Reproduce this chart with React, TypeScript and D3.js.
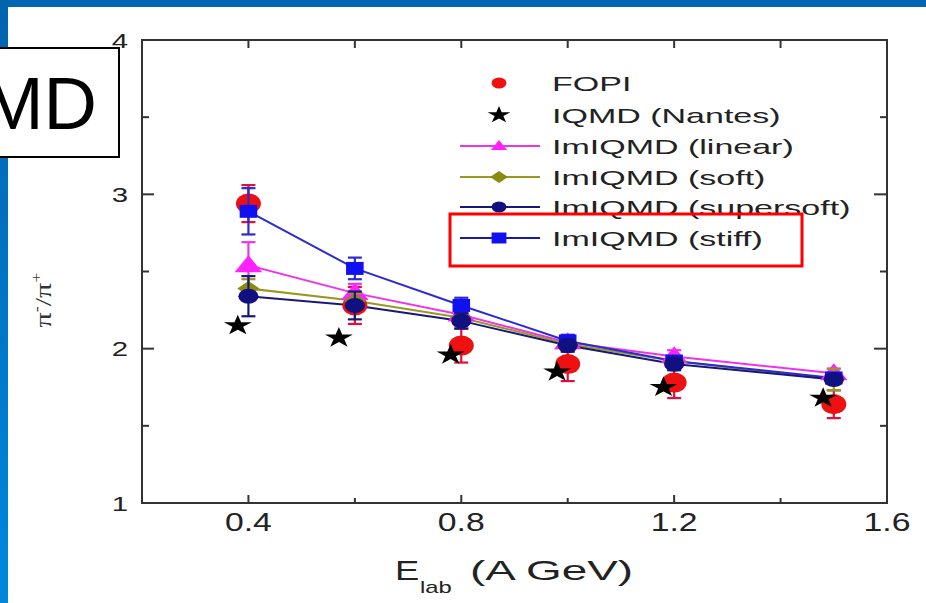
import React from "react";
import * as d3 from "d3";

const energies = [0.4, 0.6, 0.8, 1.0, 1.2, 1.5];
const fopi = [2.94, 2.28, 2.02, 1.9, 1.78, 1.64];
const fopiErr = [0.12, 0.12, 0.11, 0.11, 0.1, 0.09];
const nantesE = [0.38, 0.57, 0.78, 0.98, 1.18, 1.48];
const nantes = [2.15, 2.07, 1.96, 1.85, 1.75, 1.68];
const linear = [2.54, 2.36, 2.22, 2.04, 1.95, 1.84];
const linearErr = [0.15, 0.06, 0.05, 0.04, 0.04, 0.03];
const soft = [2.39, 2.31, 2.2, 2.03, 1.92, 1.8];
const softErr = [0.06, 0.05, 0.04, 0.04, 0.03, 0.07];
const supersoft = [2.34, 2.28, 2.18, 2.02, 1.9, 1.8];
const supersoftErr = [0.13, 0.09, 0.05, 0.04, 0.04, 0.03];
const stiff = [2.89, 2.52, 2.28, 2.05, 1.92, 1.81];
const stiffErr = [0.15, 0.07, 0.05, 0.04, 0.03, 0.03];

const xMajor = [0.4, 0.8, 1.2, 1.6];
const xMinor = [0.6, 1.0, 1.4];
const yMajor = [1, 2, 3, 4];
const yMinor = [1.5, 2.5, 3.5];
const legendLabels = [
  "FOPI",
  "IQMD (Nantes)",
  "ImIQMD (linear)",
  "ImIQMD (soft)",
  "ImIQMD (supersoft)",
  "ImIQMD (stiff)",
];

const SANS = "'Liberation Sans', Arial, Helvetica, sans-serif";
const SERIF = "'Liberation Serif', 'Times New Roman', serif";
const SX = 1.35; // horizontal stretch of the embedded figure

const x = d3.scaleLinear().domain([0.2, 1.6]).range([142, 887]);
const y = d3.scaleLinear().domain([1, 4]).range([503, 40]);

type Shape = "circle" | "star" | "triangle" | "diamond" | "square";

function shapePath(shape: Shape, s: number): string {
  if (shape === "triangle") {
    const h = s;
    const w = s * 0.6;
    return `M0,${-h * 0.6}L${w},${h * 0.4}L${-w},${h * 0.4}Z`;
  }
  if (shape === "diamond") {
    return `M0,${-s * 0.5}L${s * 0.55},0L0,${s * 0.5}L${-s * 0.55},0Z`;
  }
  if (shape === "square") {
    return `M${-s / 2},${-s / 2}h${s}v${s}h${-s}Z`;
  }
  if (shape === "star") {
    return d3.symbol(d3.symbolStar, s * s * 1.1)() as string;
  }
  return d3.symbol(d3.symbolCircle, s * s * 0.785)() as string;
}

function Marker({ cx, cy, shape, size, fill }: { cx: number; cy: number; shape: Shape; size: number; fill: string }) {
  return (
    <path
      d={shapePath(shape, size)}
      transform={`translate(${cx},${cy}) scale(${SX},1)`}
      fill={fill}
    />
  );
}

const sims = [
  { vals: linear, err: linearErr, line: "#ee33ee", fill: "#ff22ff", shape: "triangle" as Shape, size: 17 },
  { vals: soft, err: softErr, line: "#999922", fill: "#8a8a10", shape: "diamond" as Shape, size: 15 },
  { vals: stiff, err: stiffErr, line: "#2b2bd0", fill: "#1010f0", shape: "square" as Shape, size: 13 },
  { vals: supersoft, err: supersoftErr, line: "#18187a", fill: "#101080", shape: "circle" as Shape, size: 15 },
];

const legendRows = [83, 115, 146, 177, 207, 238];
const legendStyles = [
  { line: null, fill: "#ee1111", shape: "circle" as Shape, size: 11 },
  { line: null, fill: "#000000", shape: "star" as Shape, size: 9 },
  { line: "#ee33ee", fill: "#ff22ff", shape: "triangle" as Shape, size: 10 },
  { line: "#999922", fill: "#8a8a10", shape: "diamond" as Shape, size: 12 },
  { line: "#18187a", fill: "#101080", shape: "circle" as Shape, size: 11 },
  { line: "#1a1aa0", fill: "#1010f0", shape: "square" as Shape, size: 11 },
];

export default function App() {
  const lineGen = d3
    .line<number>()
    .x((_, i) => x(energies[i]))
    .y((d) => y(d));

  const errBar = (i: number, v: number, e: number, color: string, key: string) => {
    const cx = x(energies[i]);
    const cap = 7;
    return (
      <g key={key} stroke={color} strokeWidth={2.2}>
        <line x1={cx} x2={cx} y1={y(v + e)} y2={y(v - e)} />
        <line x1={cx - cap} x2={cx + cap} y1={y(v + e)} y2={y(v + e)} />
        <line x1={cx - cap} x2={cx + cap} y1={y(v - e)} y2={y(v - e)} />
      </g>
    );
  };

  return (
    <svg
      width={926}
      height={603}
      style={{ position: "absolute", left: 0, top: 0, background: "#fff" }}
    >
      <defs>
        <linearGradient id="stripe" x1="0" y1="0" x2="0" y2="1">
          <stop offset="0" stopColor="#0064ae" />
          <stop offset="1" stopColor="#0088dd" />
        </linearGradient>
      </defs>
      <rect x={0} y={0} width={926} height={603} fill="#ffffff" />
      <rect x={0} y={0} width={926} height={7} fill="#0066b3" />
      <rect x={0} y={0} width={8} height={603} fill="url(#stripe)" />

      {/* frame */}
      <rect
        x={x(0.2)}
        y={y(4)}
        width={x(1.6) - x(0.2)}
        height={y(1) - y(4)}
        fill="none"
        stroke="#333"
        strokeWidth={2}
      />
      {/* ticks */}
      <g stroke="#333" strokeWidth={2}>
        {xMajor.concat(xMinor).map((v) => (
          <g key={"xt" + v}>
            <line x1={x(v)} x2={x(v)} y1={y(1)} y2={y(1) - (xMajor.includes(v) ? 8 : 5)} />
            <line x1={x(v)} x2={x(v)} y1={y(4)} y2={y(4) + 8} />
          </g>
        ))}
        {yMajor.concat(yMinor).map((v) => (
          <g key={"yt" + v}>
            <line x1={x(0.2)} x2={x(0.2) + (yMajor.includes(v) ? 12 : 7)} y1={y(v)} y2={y(v)} />
            <line x1={x(1.6)} x2={x(1.6) - (yMajor.includes(v) ? 13 : 7)} y1={y(v)} y2={y(v)} />
          </g>
        ))}
      </g>
      {/* tick labels */}
      <g fontFamily={SANS} fill="#222">
        {yMajor.map((v) => (
          <text
            key={"yl" + v}
            transform={`translate(128,${y(v) + 7.5}) scale(1.4,1)`}
            textAnchor="end"
            fontSize={21}
          >
            {v}
          </text>
        ))}
        {xMajor.map((v) => (
          <text
            key={"xl" + v}
            transform={`translate(${x(v)},531) scale(${SX},1)`}
            textAnchor="middle"
            fontSize={25}
          >
            {v.toFixed(1)}
          </text>
        ))}
      </g>
      {/* axis titles */}
      <g fontFamily={SANS} fill="#222">
        <text transform="translate(395,580) scale(1.3,1)" fontSize={28}>E</text>
        <text transform="translate(420,593) scale(1.4,1)" fontSize={17}>lab</text>
        <text x={470} y={580} fontSize={28} textLength={163} lengthAdjust="spacingAndGlyphs">
          (A GeV)
        </text>
      </g>
      <text
        transform="translate(51,300) scale(0.8,1) rotate(-90)"
        fontFamily={SERIF}
        fontSize={30}
        textAnchor="middle"
        fill="#333"
      >
        π<tspan dy={-12} fontSize={18}>-</tspan>
        <tspan dy={12}>/π</tspan>
        <tspan dy={-12} fontSize={18}>+</tspan>
      </text>

      {/* simulation lines */}
      {sims.map((s, k) => (
        <path key={"ln" + k} d={lineGen(s.vals) as string} fill="none" stroke={s.line} strokeWidth={2} />
      ))}
      {/* FOPI error bars and markers */}
      {fopi.map((v, i) => errBar(i, v, fopiErr[i], "#e0103a", "fe" + i))}
      {fopi.map((v, i) => (
        <ellipse key={"fm" + i} cx={x(energies[i])} cy={y(v)} rx={12.5} ry={10} fill="#ee1111" />
      ))}
      {/* Nantes stars */}
      {nantes.map((v, i) => (
        <Marker key={"st" + i} cx={x(nantesE[i])} cy={y(v)} shape="star" size={11} fill="#000" />
      ))}
      {/* simulation error bars and markers */}
      {sims.map((s, k) => (
        <g key={"sm" + k}>
          {s.vals.map((v, i) => errBar(i, v, s.err[i], s.line, "se" + k + "-" + i))}
          {s.vals.map((v, i) => (
            <Marker key={"m" + i} cx={x(energies[i])} cy={y(v)} shape={s.shape} size={s.size} fill={s.fill} />
          ))}
        </g>
      ))}

      {/* legend */}
      {legendLabels.map((lab, i) => {
        const st = legendStyles[i];
        const cy = legendRows[i];
        return (
          <g key={"lg" + i}>
            {st.line && <line x1={460} x2={540} y1={cy} y2={cy} stroke={st.line} strokeWidth={2} />}
            <Marker cx={499} cy={cy} shape={st.shape} size={st.size} fill={st.fill} />
            <text
              transform={`translate(552,${cy + 7.5}) scale(1.62,1)`}
              fontFamily={SANS}
              fontSize={21}
              fill="#222"
            >
              {lab}
            </text>
          </g>
        );
      })}
      <rect x={450} y={214} width={352} height={52} fill="none" stroke="#ff0000" strokeWidth={3} />

      {/* cropped slide title box */}
      <rect x={-5} y={48} width={124} height={109} fill="#fff" stroke="#000" strokeWidth={2} />
      <text x={97} y={129} textAnchor="end" fontFamily={SANS} fontSize={74} fill="#000">
        MD
      </text>
    </svg>
  );
}
